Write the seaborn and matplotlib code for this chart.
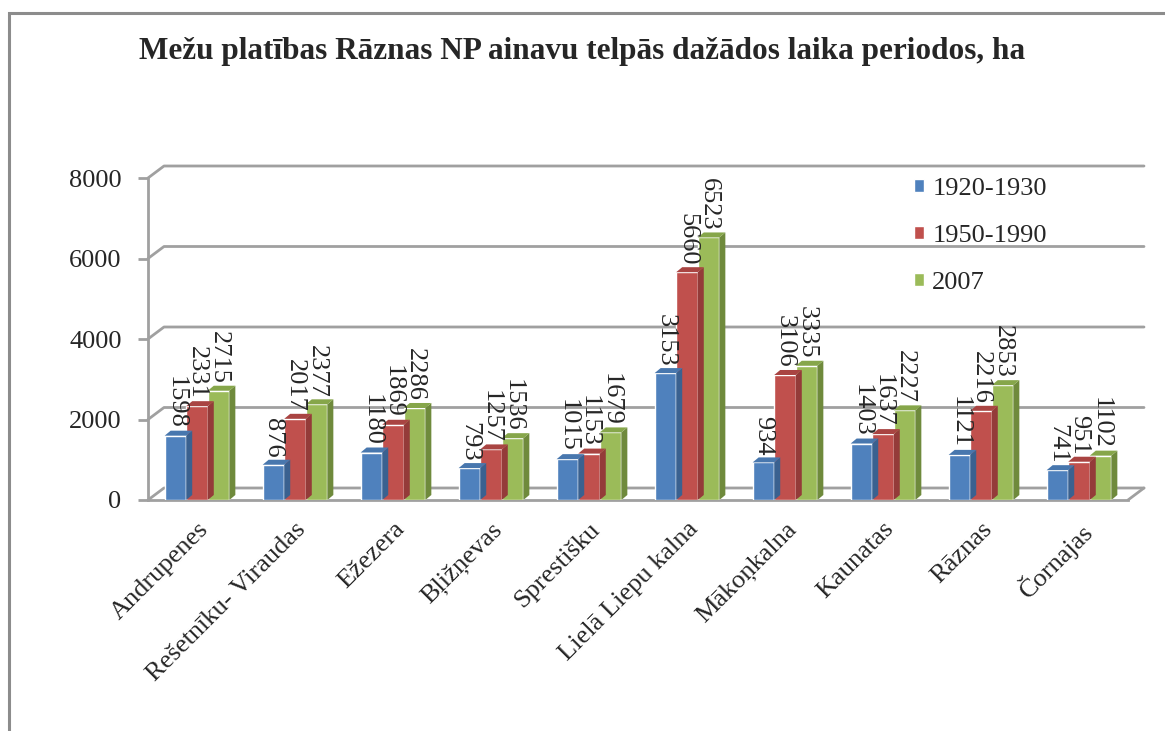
import pandas as pd
import seaborn as sns
import matplotlib.pyplot as plt
from matplotlib.patches import Polygon, Rectangle

# -------------------------------
# Data
# -------------------------------
regions = ["Andrupenes", "Rešetnīku- Viraudas", "Ežezera", "Bļižņevas", "Sprestišku",
           "Lielā Liepu kalna", "Mākoņkalna", "Kaunatas", "Rāznas", "Čornajas"]
periods = ["1920-1930", "1950-1990", "2007"]
v_1920 = [1598, 876, 1180, 793, 1015, 3153, 934, 1403, 1121, 741]
v_1950 = [2331, 2017, 1869, 1257, 1153, 5660, 3106, 1637, 2216, 951]
v_2007 = [2715, 2377, 2286, 1536, 1679, 6523, 3335, 2227, 2853, 1102]
y_ticks = [0, 2000, 4000, 6000, 8000]

df = pd.DataFrame({
    "region": regions * 3,
    "period": [periods[0]] * 10 + [periods[1]] * 10 + [periods[2]] * 10,
    "area": v_1920 + v_1950 + v_2007,
})

front = ["#4F81BD", "#C0504D", "#9BBB59"]
side = ["#3A6190", "#943B39", "#6F8A3C"]
top = ["#4877AE", "#A94442", "#86A64A"]

sns.set_style("white")
plt.rcParams["font.family"] = ["Liberation Serif", "DejaVu Serif"]
FS = 19

fig = plt.figure(figsize=(11.65, 7.31), dpi=100)
ax = fig.add_axes([148 / 1165, 1 - 500 / 731, 980 / 1165, 322 / 731])

sns.barplot(data=df, x="region", y="area", hue="period", palette=front,
            saturation=1, width=0.66, ax=ax, legend=False, zorder=3)
ax.set_xlim(-0.5, 9.5)
ax.set_ylim(0, 8000)

# -------------------------------
# back wall grid + floor
# -------------------------------
gx, gy = 16, 12  # back wall offset in pixels
to_data = ax.transData.inverted()
def shift(x, y, dx, dy):
    px, py = ax.transData.transform((x, y))
    return to_data.transform((px + dx, py + dy))

grid_c = "#A0A0A0"
for t in y_ticks:
    a = shift(-0.5, t, gx, gy)
    b = shift(9.5, t, gx, gy)
    ax.plot([-0.5, a[0], b[0]], [t, a[1], b[1]], color=grid_c, lw=2,
            zorder=1, clip_on=False)
c = shift(9.5, 0, gx, gy)
ax.plot([9.5, c[0]], [0, c[1]], color=grid_c, lw=2, zorder=1, clip_on=False)

# -------------------------------
# 3D faces on bars
# -------------------------------
dx, dy = 6, 5
for i, cont in enumerate(ax.containers):
    for p in cont:
        x0, w, h = p.get_x(), p.get_width(), p.get_height()
        x1 = x0 + w
        s0 = shift(x1, 0, dx, dy)
        s1 = shift(x1, h, dx, dy)
        t0 = shift(x0, h, dx, dy)
        ax.add_patch(Polygon([(x1, 0), s0, s1, (x1, h)], closed=True,
                             facecolor=side[i], edgecolor="none", zorder=3))
        ax.add_patch(Polygon([(x0, h), t0, s1, (x1, h)], closed=True,
                             facecolor=top[i], edgecolor="none", zorder=3))
    ax.bar_label(cont, labels=[str(int(v)) for v in cont.datavalues],
                 rotation=270, padding=5, fontsize=FS, zorder=4)

# -------------------------------
# axes styling
# -------------------------------
for s in ["top", "right"]:
    ax.spines[s].set_visible(False)
for s in ["left", "bottom"]:
    ax.spines[s].set_color(grid_c)
    ax.spines[s].set_linewidth(2)

ax.set_yticks(y_ticks)
ax.set_yticklabels([str(t) for t in y_ticks], fontsize=FS)
ax.set_xticks(range(10))
ax.set_xticklabels(regions, rotation=45, ha="right", rotation_mode="anchor", fontsize=FS)
ax.set_xticks([k - 0.5 for k in range(11)], minor=True)
ax.tick_params(axis="x", which="major", length=0, pad=13)
ax.tick_params(axis="x", which="minor", length=8, color=grid_c, width=2)
ax.tick_params(axis="y", length=7, color=grid_c, width=2, pad=12, left=True)
ax.set_xlabel("")
ax.set_ylabel("")

handles = [Rectangle((0, 0), 1, 1, facecolor=c) for c in front]
ax.legend(handles, periods, loc="upper left", bbox_to_anchor=(742 / 980, 1.075),
          frameon=False, fontsize=FS, handlelength=0.4, handleheight=0.4,
          handletextpad=0.3, labelspacing=0.95)

fig.text(0.5, 1 - 52 / 731, "Mežu platības Rāznas NP ainavu telpās dažādos laika periodos, ha",
         ha="center", va="center", fontsize=22.5, fontweight="bold")

fig.patches.append(Rectangle((9 / 1165, -0.05), 1.2, 1.05 - 13 / 731,
                             transform=fig.transFigure, fill=False,
                             edgecolor="#8C8C8C", lw=2.2))

fig.savefig("out.png", dpi=100)
